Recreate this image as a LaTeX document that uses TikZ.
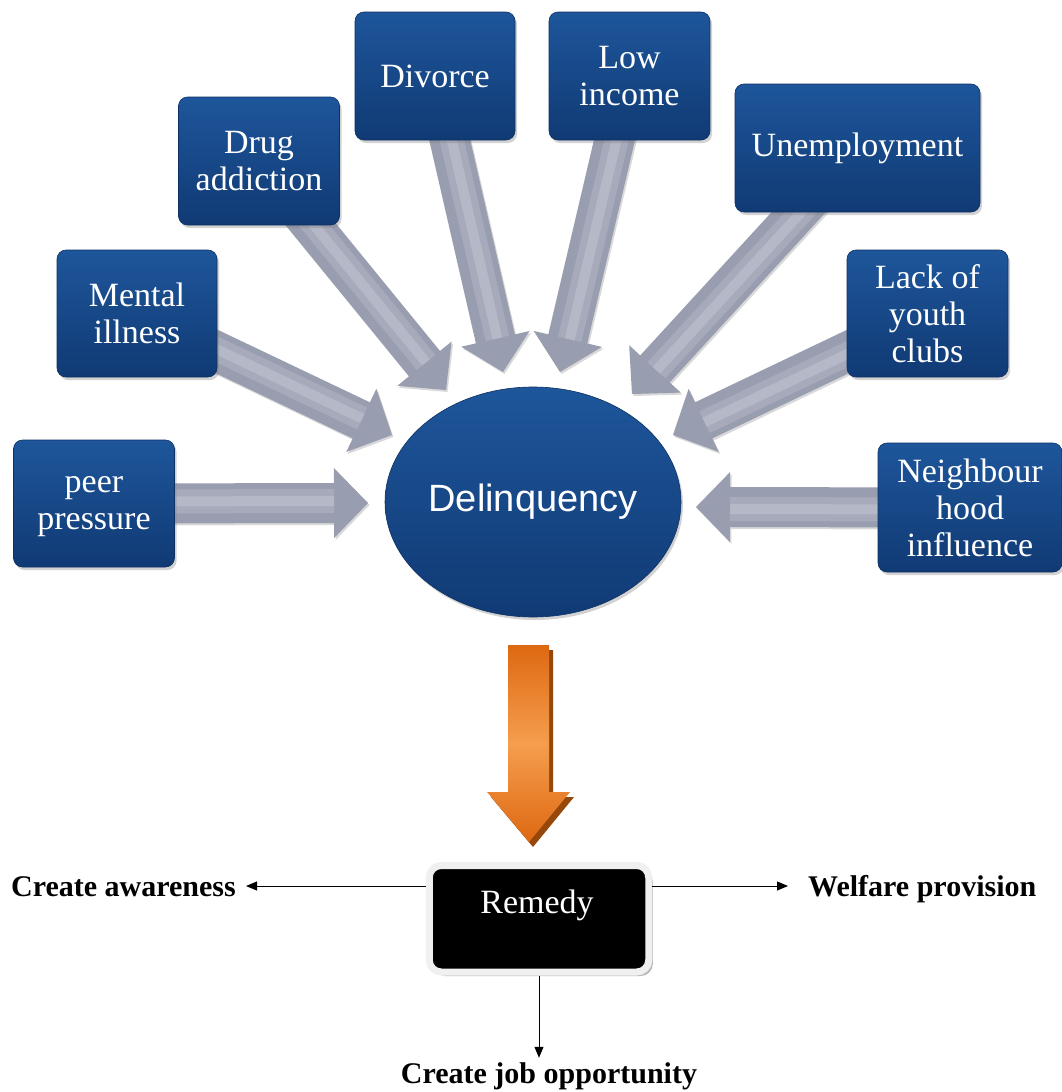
\documentclass[tikz,border=0pt]{standalone}
\usepackage{fontspec}
\setmainfont{Liberation Serif}
\newfontfamily\delfont{Liberation Sans}
\usetikzlibrary{calc,shapes.geometric,shadows,backgrounds,arrows.meta}

\definecolor{boxtop}{RGB}{30,86,155}
\definecolor{boxbot}{RGB}{16,58,116}
\definecolor{garr}{RGB}{152,157,176}
\definecolor{garrmid}{RGB}{166,170,187}
\definecolor{garrlight}{RGB}{180,184,199}
\definecolor{orA}{RGB}{222,104,18}
\definecolor{orB}{RGB}{245,158,78}
\definecolor{orshadow}{RGB}{150,72,10}
\definecolor{framegray}{RGB}{240,240,240}

\tikzset{
  causebox/.style={rectangle, rounded corners=9pt, top color=boxtop, bottom color=boxbot,
    draw=boxbot!85!black, line width=0.6pt, text=white, align=center,
    minimum width=161pt, minimum height=127pt, inner sep=2pt,
    font=\fontsize{34}{37}\selectfont,
    drop shadow={shadow xshift=2pt, shadow yshift=-3pt, opacity=0.35}},
  delnode/.style={ellipse, minimum width=296pt, minimum height=230pt, inner sep=0pt,
    top color=boxtop, bottom color=boxbot, draw=boxbot!85!black, line width=0.6pt,
    text=white, font=\delfont\fontsize{38}{40}\selectfont,
    drop shadow={shadow xshift=2pt, shadow yshift=-3pt, opacity=0.35}},
  remedybox/.style={rectangle, rounded corners=12pt, fill=black, draw=framegray,
    line width=7pt, minimum width=219.5pt, minimum height=106.5pt, inner sep=0pt,
    drop shadow={shadow xshift=4pt, shadow yshift=-4pt, fill=gray!55, opacity=1}},
  remtext/.style={text=white, font=\fontsize{34}{37}\selectfont, inner sep=0pt},
  blabel/.style={font=\bfseries\fontsize{30}{32}\selectfont, inner sep=4pt,
    text height=21pt, text depth=0pt},
  conn/.style={draw=black, line width=1pt, -{Triangle[length=11pt,width=9pt]}},
  arrowshape/.style={fill=garr, drop shadow={shadow xshift=1.5pt, shadow yshift=-2pt, opacity=0.3}},
}

% block arrow from node #1 (center) to tip coordinate #2
\newcommand\blockarrow[2]{%
  \coordinate (bh) at ($(#2.center)!34pt!(#1.center)$);
  \fill[arrowshape] ($(#1.center)!20pt!90:(#2.center)$) -- ($(bh)!20pt!90:(#2.center)$)
    -- ($(bh)!35pt!90:(#2.center)$) -- (#2.center) -- ($(bh)!35pt!-90:(#2.center)$)
    -- ($(bh)!20pt!-90:(#2.center)$) -- ($(#1.center)!20pt!-90:(#2.center)$) -- cycle;
  \fill[garrmid] ($(#1.center)!14pt!90:(#2.center)$) -- ($(bh)!14pt!90:(#2.center)$)
    -- ($(bh)!10pt!-90:(#2.center)$) -- ($(#1.center)!10pt!-90:(#2.center)$) -- cycle;
  \fill[garrlight] ($(#1.center)!7pt!90:(#2.center)$) -- ($(bh)!7pt!90:(#2.center)$)
    -- ($(bh)!3pt!-90:(#2.center)$) -- ($(#1.center)!3pt!-90:(#2.center)$) -- cycle;
}

\begin{document}
\begin{tikzpicture}[x=1pt,y=-1pt]
\useasboundingbox (0,0) rectangle (1062,1092);

% cause boxes
\node[causebox] (pp) at (94,503.5) {\vphantom{P}peer\\pressure};
\node[causebox, minimum width=160pt] (mi) at (137,313.5) {Mental\\illness};
\node[causebox, minimum height=128pt] (da) at (259,161) {Drug\\addiction};
\node[causebox, minimum width=160pt, minimum height=128pt] (dv) at (435,76) {Divorce};
\node[causebox, minimum height=128pt] (li) at (629.5,76) {Low\\income};
\node[causebox, minimum width=245pt, minimum height=128pt] (un) at (857.5,148) {Unemployment};
\node[causebox] (ly) at (927.5,313.5) {Lack of\\youth\\clubs};
\node[causebox, minimum width=184pt, minimum height=129pt] (nh) at (970,507.5) {Neighbour\\hood\\influence};

% centre
\node[delnode] (del) at (533,502) {Delinquency};

% tips of the grey arrows
\coordinate (t1) at (368,503);
\coordinate (t2) at (392,435);
\coordinate (t3) at (446,390);
\coordinate (t4) at (503,372);
\coordinate (t5) at (560,372);
\coordinate (t6) at (632,394);
\coordinate (t7) at (673,435);
\coordinate (t8) at (696,507);

\begin{scope}[on background layer]
  \fill[white] (0,0) rectangle (1062,1092);
  \blockarrow{pp}{t1}
  \blockarrow{mi}{t2}
  \blockarrow{da}{t3}
  \blockarrow{dv}{t4}
  \blockarrow{li}{t5}
  \blockarrow{un}{t6}
  \blockarrow{ly}{t7}
  \blockarrow{nh}{t8}
\end{scope}

% orange arrow
\fill[orshadow, shift={(4,5)}] (508,645) -- (549,645) -- (549,792) -- (570,792) -- (529,842) -- (487,792) -- (508,792) -- cycle;
\shade[top color=orA, bottom color=orA, middle color=orB]
  (508,645) -- (549,645) -- (549,792) -- (570,792) -- (529,842) -- (487,792) -- (508,792) -- cycle;

% remedy
\node[remedybox] (rem) at (539,918.75) {};
\node[remtext] (remt) at (537,905) {Remedy};

\node[blabel, anchor=east] (ca) at (240,886) {Create awareness};
\node[blabel, anchor=west] (wp) at (804,886) {Welfare provision};
\node[blabel, anchor=base] (cj) at (549,1083) {Create job opportunity};

\draw[conn, shorten >=6pt] (rem.west |- ca.east) -- (ca.east);
\draw[conn, shorten >=16pt] (rem.east |- wp.west) -- (wp.west);
\draw[conn] (rem.south) -- (rem.south |- cj.north);
\end{tikzpicture}
\end{document}
